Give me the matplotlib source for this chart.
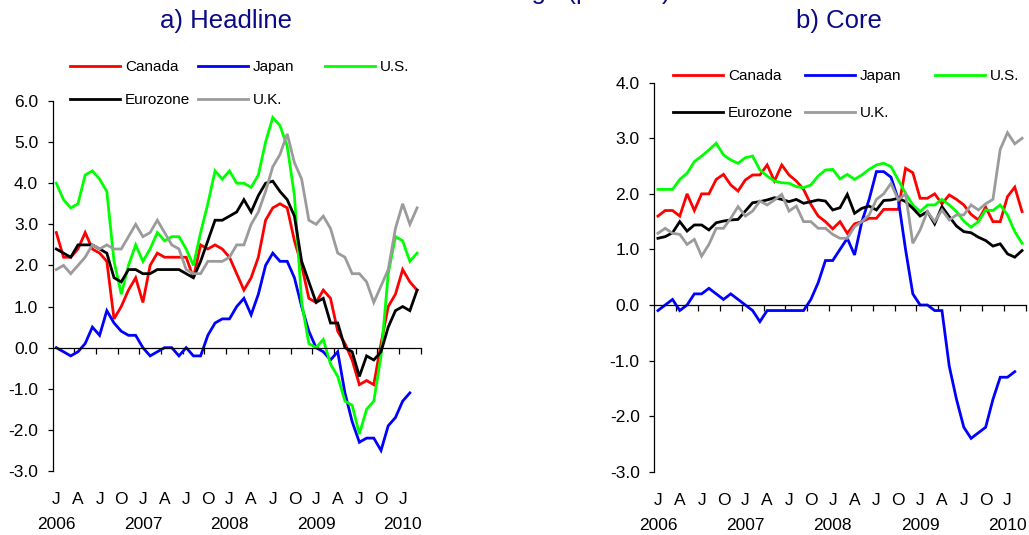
import numpy as np
import matplotlib.pyplot as plt

plt.rcParams['font.family'] = ['Liberation Sans', 'DejaVu Sans']
plt.rcParams['axes.unicode_minus'] = False

# monthly data, Jan 2006 - Mar 2010 (Japan ends Feb 2010)
month_letters = ['J', 'A', 'J', 'O']
years = ['2006', '2007', '2008', '2009', '2010']
countries = ['Canada', 'Japan', 'U.S.', 'Eurozone', 'U.K.']

head_canada = [2.8, 2.2, 2.2, 2.4, 2.8, 2.4, 2.3, 2.1, 0.7, 1.0, 1.4, 1.7,
               1.1, 2.0, 2.3, 2.2, 2.2, 2.2, 2.2, 1.7, 2.5, 2.4, 2.5, 2.4,
               2.2, 1.8, 1.4, 1.7, 2.2, 3.1, 3.4, 3.5, 3.4, 2.6, 2.0, 1.2,
               1.1, 1.4, 1.2, 0.4, 0.1, -0.3, -0.9, -0.8, -0.9, 0.1, 1.0, 1.3,
               1.9, 1.6, 1.4]
head_japan = [0.0, -0.1, -0.2, -0.1, 0.1, 0.5, 0.3, 0.9, 0.6, 0.4, 0.3, 0.3,
              0.0, -0.2, -0.1, 0.0, 0.0, -0.2, 0.0, -0.2, -0.2, 0.3, 0.6, 0.7,
              0.7, 1.0, 1.2, 0.8, 1.3, 2.0, 2.3, 2.1, 2.1, 1.7, 1.0, 0.4,
              0.0, -0.1, -0.3, -0.1, -1.1, -1.8, -2.3, -2.2, -2.2, -2.5, -1.9, -1.7,
              -1.3, -1.1]
head_us = [4.0, 3.6, 3.4, 3.5, 4.2, 4.3, 4.1, 3.8, 2.1, 1.3, 2.0, 2.5,
           2.1, 2.4, 2.8, 2.6, 2.7, 2.7, 2.4, 2.0, 2.8, 3.5, 4.3, 4.1,
           4.3, 4.0, 4.0, 3.9, 4.2, 5.0, 5.6, 5.4, 4.9, 3.7, 1.1, 0.1,
           0.0, 0.2, -0.4, -0.7, -1.3, -1.4, -2.1, -1.5, -1.3, -0.2, 1.8, 2.7,
           2.6, 2.1, 2.3]
head_euro = [2.4, 2.3, 2.2, 2.5, 2.5, 2.5, 2.4, 2.3, 1.7, 1.6, 1.9, 1.9,
             1.8, 1.8, 1.9, 1.9, 1.9, 1.9, 1.8, 1.7, 2.1, 2.6, 3.1, 3.1,
             3.2, 3.3, 3.6, 3.3, 3.7, 4.0, 4.05, 3.8, 3.6, 3.2, 2.1, 1.6,
             1.1, 1.2, 0.6, 0.6, 0.0, -0.1, -0.7, -0.2, -0.3, -0.1, 0.5, 0.9,
             1.0, 0.9, 1.4]
head_uk = [1.9, 2.0, 1.8, 2.0, 2.2, 2.5, 2.4, 2.5, 2.4, 2.4, 2.7, 3.0,
           2.7, 2.8, 3.1, 2.8, 2.5, 2.4, 1.9, 1.8, 1.8, 2.1, 2.1, 2.1,
           2.2, 2.5, 2.5, 3.0, 3.3, 3.8, 4.4, 4.7, 5.2, 4.5, 4.1, 3.1,
           3.0, 3.2, 2.9, 2.3, 2.2, 1.8, 1.8, 1.6, 1.1, 1.5, 1.9, 2.9,
           3.5, 3.0, 3.4]

core_canada = [1.6, 1.7, 1.7, 1.6, 2.0, 1.7, 2.0, 2.0, 2.26, 2.35, 2.16, 2.05,
               2.25, 2.34, 2.34, 2.52, 2.23, 2.52, 2.34, 2.23, 2.08, 1.81, 1.6, 1.5,
               1.37, 1.5, 1.29, 1.46, 1.5, 1.56, 1.56, 1.72, 1.72, 1.72, 2.46, 2.38,
               1.92, 1.92, 2.0, 1.82, 1.98, 1.9, 1.8, 1.63, 1.53, 1.76, 1.5, 1.5,
               1.95, 2.12, 1.68]
core_japan = [-0.1, 0.0, 0.1, -0.1, 0.0, 0.2, 0.2, 0.3, 0.2, 0.1, 0.2, 0.1,
              0.0, -0.1, -0.3, -0.1, -0.1, -0.1, -0.1, -0.1, -0.1, 0.1, 0.4, 0.8,
              0.8, 1.0, 1.2, 0.9, 1.5, 1.9, 2.4, 2.4, 2.3, 1.9, 1.0, 0.2,
              0.0, 0.0, -0.1, -0.1, -1.1, -1.7, -2.2, -2.4, -2.3, -2.2, -1.7, -1.3,
              -1.3, -1.2]
core_us = [2.08, 2.08, 2.08, 2.26, 2.37, 2.58, 2.68, 2.79, 2.91, 2.70, 2.61, 2.55,
           2.65, 2.68, 2.43, 2.32, 2.23, 2.2, 2.19, 2.13, 2.11, 2.16, 2.32, 2.43,
           2.44, 2.27, 2.35, 2.26, 2.34, 2.44, 2.52, 2.55, 2.49, 2.25, 2.01, 1.8,
           1.68, 1.8, 1.8, 1.9, 1.8, 1.68, 1.51, 1.4, 1.5, 1.71, 1.7, 1.8,
           1.62, 1.32, 1.11]
core_euro = [1.2, 1.23, 1.3, 1.5, 1.33, 1.44, 1.44, 1.35, 1.48, 1.51, 1.53, 1.54,
             1.69, 1.84, 1.86, 1.89, 1.93, 1.9, 1.86, 1.9, 1.83, 1.86, 1.89, 1.87,
             1.71, 1.75, 1.99, 1.65, 1.74, 1.78, 1.71, 1.88, 1.89, 1.92, 1.86, 1.74,
             1.6, 1.68, 1.46, 1.77, 1.59, 1.42, 1.32, 1.3, 1.22, 1.16, 1.06, 1.1,
             0.92, 0.86, 0.98]
core_uk = [1.29, 1.38, 1.29, 1.27, 1.09, 1.18, 0.88, 1.09, 1.38, 1.38, 1.56, 1.77,
           1.6, 1.69, 1.87, 1.8, 1.89, 1.99, 1.69, 1.78, 1.5, 1.5, 1.38, 1.38,
           1.27, 1.2, 1.2, 1.41, 1.5, 1.62, 1.9, 2.0, 2.19, 1.89, 2.0, 1.11,
           1.35, 1.68, 1.5, 1.71, 1.53, 1.62, 1.62, 1.8, 1.71, 1.82, 1.9, 2.8,
           3.1, 2.9, 3.0]

colors = {'Canada': '#ff0000', 'Japan': '#0000ff', 'U.S.': '#00ff00',
          'Eurozone': '#000000', 'U.K.': '#9b9b9b'}
navy = '#0a0a86'

W, H = 1029, 535
fig = plt.figure(figsize=(W / 100, H / 100), dpi=100)


def draw_panel(box, data, ylim, title, title_x, leg_x, leg_y, leg_space):
    # box in pixels: left, top, right, bottom
    l, t, r, b = box
    ax = fig.add_axes([l / W, 1 - b / H, (r - l) / W, (b - t) / H])
    lines = {}
    for name, vals in zip(countries, data):
        ln, = ax.plot(np.arange(len(vals)), vals, color=colors[name], lw=2.0,
                      solid_joinstyle='miter')
        lines[name] = ln
    n = max(len(v) for v in data)
    ax.set_xlim(-0.5, n - 0.5)
    ax.set_ylim(*ylim)
    ax.set_yticks(np.arange(ylim[0], ylim[1] + 0.5, 1.0))
    ax.yaxis.set_major_formatter('{x:.1f}')
    ax.spines[['top', 'right']].set_visible(False)
    ax.spines['bottom'].set_position(('data', 0))
    for s in ['left', 'bottom']:
        ax.spines[s].set_linewidth(0.9)
    ax.set_xticks(np.arange(2.5, n, 3))
    ax.tick_params(axis='x', direction='out', length=4.5, width=0.9,
                   labelbottom=False)
    ax.tick_params(axis='y', direction='out', length=3.5, width=0.9,
                   labelsize=12.5, pad=7)

    # month letters and years along the bottom of the plot area
    mpos = np.arange(0, n, 3)
    sec = ax.secondary_xaxis(0)
    sec.set_xticks(mpos, [month_letters[i % 4] for i in range(len(mpos))])
    sec.tick_params(length=0, pad=15, labelsize=12.5)
    sec.spines['bottom'].set_visible(False)
    sec2 = ax.secondary_xaxis(0)
    sec2.set_xticks(np.arange(0, n, 12), years)
    sec2.tick_params(length=0, pad=33, labelsize=12.5)
    sec2.spines['bottom'].set_visible(False)

    fig.text(title_x / W, 1 - 28 / H, title, ha='center', va='baseline',
             fontsize=18.5, color=navy)

    cols = [['Canada', 'Eurozone'], ['Japan', 'U.K.'], ['U.S.']]
    for names, x0 in zip(cols, leg_x):
        fig.legend([lines[k] for k in names], names, loc='upper left',
                   bbox_to_anchor=(x0 / W, 1 - leg_y / H), frameon=False,
                   fontsize=11, handlelength=3.3, handletextpad=0.3,
                   labelspacing=leg_space, borderpad=0, borderaxespad=0)
    return ax


draw_panel((52.7, 101, 420.7, 471),
           [head_canada, head_japan, head_us, head_euro, head_uk],
           (-3, 6), 'a) Headline', 225.5, (70, 198, 325), 60, 1.24)
draw_panel((654.3, 82.7, 1025.7, 471.7),
           [core_canada, core_japan, core_us, core_euro, core_uk],
           (-3, 4), 'b) Core', 839, (673, 805, 935), 69, 1.5)

# overall heading, mostly cropped at the top edge
fig.text(671 / W, 1 + 1 / H, '12-month change (percent)', ha='right',
         va='baseline', fontsize=18.5, color=navy)

fig.savefig('out.png', dpi=100)
